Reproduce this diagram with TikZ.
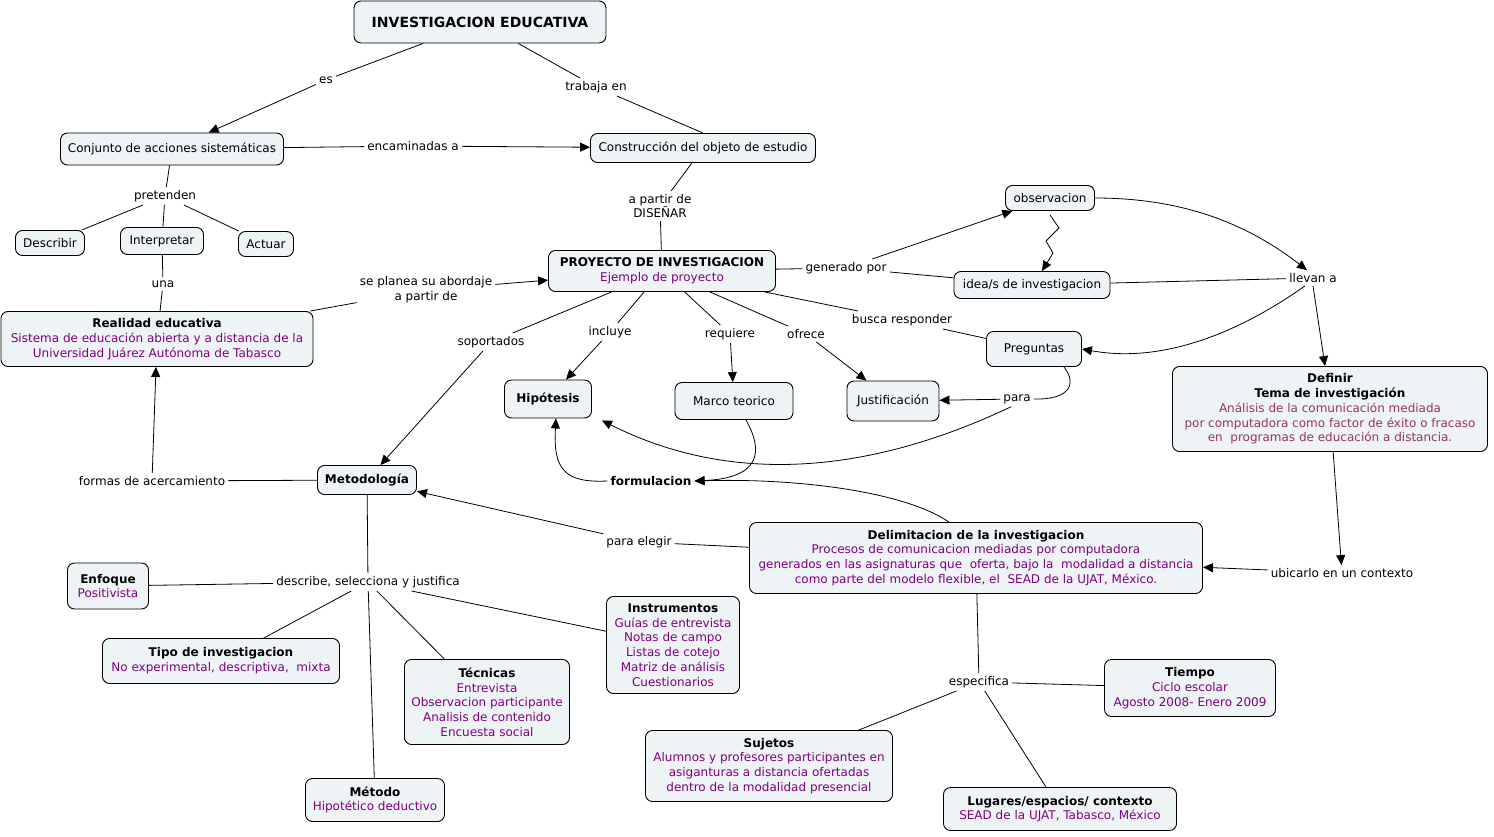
\documentclass[tikz,border=0pt]{standalone}
\usepackage{fontspec}
\setmainfont{DejaVu Sans}
\usetikzlibrary{arrows.meta}
\definecolor{boxfill}{HTML}{EEF3F5}
\definecolor{purp}{HTML}{800080}
\definecolor{rose}{HTML}{993366}
\tikzset{
  cbox/.style={draw=black, fill=boxfill, rounded corners=7pt, line width=0.9pt,
    align=center, inner sep=2pt, font=\fontsize{12}{14.7}\selectfont},
  lbl/.style={align=center, inner sep=3pt, font=\fontsize{12}{14.7}\selectfont},
  con/.style={line width=0.8pt},
  arr/.style={con, -{Triangle[length=10pt,width=9pt]}},
  sz/.style 2 args={minimum width=#1pt, minimum height=#2pt},
}
\newcommand{\pu}[1]{\textcolor{purp}{#1}}
\newcommand{\ro}[1]{\textcolor{rose}{#1}}
\begin{document}
\begin{tikzpicture}[x=1pt,y=-1pt]
\useasboundingbox (0,0) rectangle (1494,837);
% concept boxes
\node[cbox, sz={252}{42}, font=\fontsize{14}{16}\selectfont\bfseries] (inv) at (480,22) {INVESTIGACION EDUCATIVA};
\node[cbox, sz={223}{32}] (conj) at (172,149) {Conjunto de acciones sistemáticas};
\node[cbox, sz={225}{29}] (const) at (703,148) {Construcción del objeto de estudio};
\node[cbox, sz={69}{25}] (desc) at (50,243) {Describir};
\node[cbox, sz={83}{27}] (interp) at (162,241) {Interpretar};
\node[cbox, sz={55}{25}] (actuar) at (266,244) {Actuar};
\node[cbox, sz={312}{55}] (real) at (157,339) {\textbf{Realidad educativa}\\\pu{Sistema de educación abierta y a distancia de la}\\\pu{Universidad Juárez Autónoma de Tabasco}};
\node[cbox, sz={227}{41}] (proy) at (662,271) {\textbf{PROYECTO DE INVESTIGACION}\\\pu{Ejemplo de proyecto}};
\node[cbox, sz={89}{25}] (obs) at (1050,198) {observacion};
\node[cbox, sz={156}{27}] (idea) at (1032,285) {idea/s de investigacion};
\node[cbox, sz={95}{35}] (preg) at (1034,349) {Preguntas};
\node[cbox, sz={315}{85}] (def) at (1330,409) {\textbf{Definir}\\\textbf{Tema de investigación}\\\ro{Análisis de la comunicación mediada}\\\ro{por computadora como factor de éxito o fracaso}\\\ro{en\ \ programas de educación a distancia.}};
\node[cbox, sz={87}{38}] (hip) at (548,399) {\textbf{Hipótesis}};
\node[cbox, sz={118}{37}] (marco) at (734,401) {Marco teorico};
\node[cbox, sz={92}{40}] (just) at (893,401) {Justificación};
\node[cbox, sz={99}{29}] (metod) at (367,480) {\textbf{Metodología}};
\node[cbox, sz={453}{71}] (delim) at (976,558) {\textbf{Delimitacion de la investigacion}\\\pu{Procesos de comunicacion mediadas por computadora}\\\pu{generados en las asignaturas que\ \ oferta, bajo la\ \ modalidad a distancia}\\\pu{como parte del modelo flexible, el\ \ SEAD de la UJAT, México.}};
\node[cbox, sz={81}{46}] (enf) at (108,586) {\textbf{Enfoque}\\\pu{Positivista}};
\node[cbox, sz={237}{45}] (tipo) at (221,661) {\textbf{Tipo de investigacion}\\\pu{No experimental, descriptiva,\ \ mixta}};
\node[cbox, sz={165}{85}] (tecn) at (487,702) {\textbf{Técnicas}\\\pu{Entrevista}\\\pu{Observacion participante}\\\pu{Analisis de contenido}\\\pu{Encuesta social}};
\node[cbox, sz={133}{97}] (instr) at (673,645) {\textbf{Instrumentos}\\\pu{Guías de entrevista}\\\pu{Notas de campo}\\\pu{Listas de cotejo}\\\pu{Matriz de análisis}\\\pu{Cuestionarios}};
\node[cbox, sz={139}{43}] (metodo) at (375,800) {\textbf{Método}\\\pu{Hipotético deductivo}};
\node[cbox, sz={171}{57}] (tiempo) at (1190,688) {\textbf{Tiempo}\\\pu{Ciclo escolar}\\\pu{Agosto 2008- Enero 2009}};
\node[cbox, sz={247}{71}] (suj) at (769,766) {\textbf{Sujetos}\\\pu{Alumnos y profesores participantes en}\\\pu{asiganturas a distancia ofertadas}\\\pu{dentro de la modalidad presencial}};
\node[cbox, sz={233}{43}] (lug) at (1060,809) {\textbf{Lugares/espacios/ contexto}\\\pu{SEAD de la UJAT, Tabasco, México}};
% linking phrases
\node[lbl] (es) at (326,80) {es};
\node[lbl] (trab) at (596,87) {trabaja en};
\node[lbl] (encam) at (413,146) {encaminadas a};
\node[lbl] (pret) at (165,196) {pretenden};
\node[lbl] (una) at (163,284) {una};
\node[lbl] (dis) at (660,206) {a partir de\\DISEÑAR};
\node[lbl] (seplan) at (426,290) {se planea su abordaje\\a partir de};
\node[lbl] (gen) at (846,268) {generado por};
\node[lbl] (llevan) at (1313,278) {llevan a};
\node[lbl] (busca) at (902,320) {busca responder};
\node[lbl] (soport) at (491,342) {soportados};
\node[lbl] (incl) at (610,332) {incluye};
\node[lbl] (req) at (730,334) {requiere};
\node[lbl] (ofr) at (806,334) {ofrece};
\node[lbl] (para) at (1017,399) {para};
\node[lbl, font=\fontsize{12}{14.7}\selectfont\bfseries] (form) at (651,481) {formulacion};
\node[lbl] (formas) at (152,481) {formas de acercamiento};
\node[lbl] (parael) at (639,542) {para elegir};
\node[lbl] (descr) at (368,582) {describe, selecciona y justifica};
\node[lbl] (ubic) at (1342,573) {ubicarlo en un contexto};
\node[lbl] (espec) at (979,682) {especifica};
% connectors
\draw[con] (inv) -- (es);
\draw[arr] (es) -- (conj);
\draw[con] (inv) -- (trab);
\draw[con] (trab) -- (const.north);
\draw[con] (conj) -- (encam);
\draw[arr] (encam) -- (const);
\draw[con] (conj) -- (pret);
\draw[con] (pret) -- (desc);
\draw[con] (pret) -- (interp);
\draw[con] (pret) -- (actuar);
\draw[con] (interp) -- (una);
\draw[con] (una) -- (real);
\draw[con] (const) -- (dis);
\draw[con] (dis) -- (proy);
\draw[con] (real) -- (seplan);
\draw[arr] (seplan) -- (proy);
\draw[con] (proy) -- (gen);
\draw[arr] (gen) -- (obs);
\draw[con] (gen) -- (idea);
\draw[arr] ([yshift=-4pt]obs.south) -- (1059,228) -- (1046,241) -- (1053,253) -- ([xshift=10pt]idea.north);
\draw[arr] (obs.east) .. controls (1180,198) and (1245,222) .. ([xshift=-6pt]llevan.north);
\draw[con] (idea) -- (llevan);
\draw[arr] ([xshift=-8pt]llevan.south) .. controls (1250,325) and (1170,365) .. (preg.east);
\draw[arr] (llevan.south) -- ([xshift=-5pt]def.north);
\draw[con] (proy) -- (busca);
\draw[con] (busca) -- (preg);
\draw[con] ([xshift=30pt]preg.south) .. controls (1078,385) and (1068,400) .. (para.east);
\draw[arr] (para) -- (just);
\draw[arr] ([xshift=-6pt]para.south) .. controls (930,445) and (770,505) .. ([xshift=10pt,yshift=-2pt]hip.south east);
\draw[con] (proy) -- (soport);
\draw[arr] (soport) -- (metod);
\draw[con] (proy) -- (incl);
\draw[arr] (incl) -- (hip);
\draw[con] (proy) -- (req);
\draw[arr] (req) -- (marco);
\draw[con] (proy) -- (ofr);
\draw[arr] (ofr) -- (just);
\draw[arr] ([xshift=12pt]marco.south) .. controls (764,452) and (760,478) .. (form.east);
\draw[arr] ([xshift=-27pt]delim.north) .. controls (905,492) and (800,478) .. (form.east);
\draw[arr] (form.west) .. controls (565,483) and (553,470) .. ([xshift=8pt]hip.south);
\draw[con] (metod) -- (formas);
\draw[arr] (formas) -- (real);
\draw[con] (delim) -- (parael);
\draw[arr] (parael) -- (metod);
\draw[con] (metod) -- (descr);
\draw[con] (descr) -- (enf);
\draw[con] (descr) -- (tipo);
\draw[con] (descr) -- (tecn);
\draw[con] (descr) -- (instr);
\draw[con] (descr) -- (metodo);
\draw[arr] (def) -- (ubic);
\draw[arr] (ubic) -- (delim);
\draw[con] (delim) -- (espec);
\draw[con] (espec) -- (tiempo);
\draw[con] (espec) -- (suj);
\draw[con] (espec) -- (lug);
\end{tikzpicture}
\end{document}
